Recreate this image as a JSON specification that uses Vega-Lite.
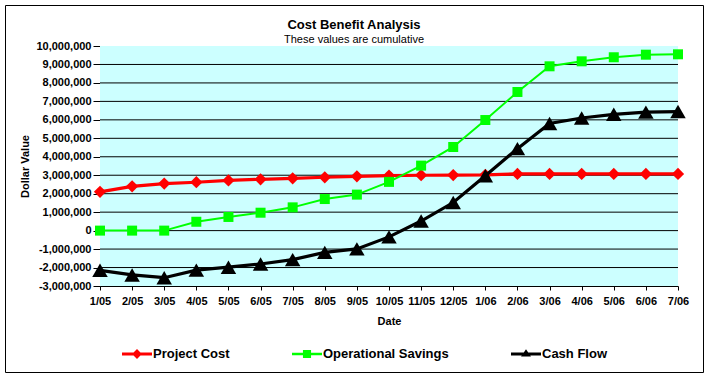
{
  "$schema": "https://vega.github.io/schema/vega-lite/v6.json",
  "width": 698,
  "height": 367,
  "autosize": {"type": "none"},
  "padding": {"left": 5, "top": 5, "right": 7, "bottom": 6},
  "background": "white",
  "title": {
    "text": "Cost Benefit Analysis",
    "subtitle": "These values are cumulative",
    "anchor": "middle",
    "offset": -40,
    "font": "Liberation Sans",
    "fontSize": 13,
    "fontWeight": "bold",
    "color": "black",
    "subtitleFont": "Liberation Sans",
    "subtitleFontSize": 11,
    "subtitleColor": "black",
    "subtitlePadding": 2
  },
  "config": {
    "view": {"stroke": "black", "strokeWidth": 1, "fill": "white"},
    "font": "Liberation Sans",
    "axis": {
      "domainColor": "black",
      "tickColor": "black",
      "labelColor": "black",
      "titleColor": "black",
      "labelFont": "Liberation Sans",
      "labelFontSize": 11,
      "labelFontWeight": "bold",
      "titleFont": "Liberation Sans",
      "titleFontSize": 11,
      "titleFontWeight": "bold",
      "labelOverlap": false,
      "grid": false
    }
  },
  "data": {
    "values": [
      {"Date": "1/05", "Series": "Project Cost", "Value": 2100000},
      {"Date": "2/05", "Series": "Project Cost", "Value": 2400000},
      {"Date": "3/05", "Series": "Project Cost", "Value": 2550000},
      {"Date": "4/05", "Series": "Project Cost", "Value": 2620000},
      {"Date": "5/05", "Series": "Project Cost", "Value": 2720000},
      {"Date": "6/05", "Series": "Project Cost", "Value": 2780000},
      {"Date": "7/05", "Series": "Project Cost", "Value": 2830000},
      {"Date": "8/05", "Series": "Project Cost", "Value": 2890000},
      {"Date": "9/05", "Series": "Project Cost", "Value": 2940000},
      {"Date": "10/05", "Series": "Project Cost", "Value": 2980000},
      {"Date": "11/05", "Series": "Project Cost", "Value": 3000000},
      {"Date": "12/05", "Series": "Project Cost", "Value": 3010000},
      {"Date": "1/06", "Series": "Project Cost", "Value": 3020000},
      {"Date": "2/06", "Series": "Project Cost", "Value": 3070000},
      {"Date": "3/06", "Series": "Project Cost", "Value": 3070000},
      {"Date": "4/06", "Series": "Project Cost", "Value": 3070000},
      {"Date": "5/06", "Series": "Project Cost", "Value": 3070000},
      {"Date": "6/06", "Series": "Project Cost", "Value": 3070000},
      {"Date": "7/06", "Series": "Project Cost", "Value": 3070000},
      {"Date": "1/05", "Series": "Operational Savings", "Value": 0},
      {"Date": "2/05", "Series": "Operational Savings", "Value": 0},
      {"Date": "3/05", "Series": "Operational Savings", "Value": 0},
      {"Date": "4/05", "Series": "Operational Savings", "Value": 480000},
      {"Date": "5/05", "Series": "Operational Savings", "Value": 740000},
      {"Date": "6/05", "Series": "Operational Savings", "Value": 970000},
      {"Date": "7/05", "Series": "Operational Savings", "Value": 1260000},
      {"Date": "8/05", "Series": "Operational Savings", "Value": 1710000},
      {"Date": "9/05", "Series": "Operational Savings", "Value": 1950000},
      {"Date": "10/05", "Series": "Operational Savings", "Value": 2640000},
      {"Date": "11/05", "Series": "Operational Savings", "Value": 3520000},
      {"Date": "12/05", "Series": "Operational Savings", "Value": 4530000},
      {"Date": "1/06", "Series": "Operational Savings", "Value": 5990000},
      {"Date": "2/06", "Series": "Operational Savings", "Value": 7510000},
      {"Date": "3/06", "Series": "Operational Savings", "Value": 8900000},
      {"Date": "4/06", "Series": "Operational Savings", "Value": 9170000},
      {"Date": "5/06", "Series": "Operational Savings", "Value": 9390000},
      {"Date": "6/06", "Series": "Operational Savings", "Value": 9530000},
      {"Date": "7/06", "Series": "Operational Savings", "Value": 9550000},
      {"Date": "1/05", "Series": "Cash Flow", "Value": -2150000},
      {"Date": "2/05", "Series": "Cash Flow", "Value": -2400000},
      {"Date": "3/05", "Series": "Cash Flow", "Value": -2550000},
      {"Date": "4/05", "Series": "Cash Flow", "Value": -2140000},
      {"Date": "5/05", "Series": "Cash Flow", "Value": -1980000},
      {"Date": "6/05", "Series": "Cash Flow", "Value": -1810000},
      {"Date": "7/05", "Series": "Cash Flow", "Value": -1570000},
      {"Date": "8/05", "Series": "Cash Flow", "Value": -1180000},
      {"Date": "9/05", "Series": "Cash Flow", "Value": -990000},
      {"Date": "10/05", "Series": "Cash Flow", "Value": -340000},
      {"Date": "11/05", "Series": "Cash Flow", "Value": 520000},
      {"Date": "12/05", "Series": "Cash Flow", "Value": 1520000},
      {"Date": "1/06", "Series": "Cash Flow", "Value": 2970000},
      {"Date": "2/06", "Series": "Cash Flow", "Value": 4440000},
      {"Date": "3/06", "Series": "Cash Flow", "Value": 5800000},
      {"Date": "4/06", "Series": "Cash Flow", "Value": 6100000},
      {"Date": "5/06", "Series": "Cash Flow", "Value": 6300000},
      {"Date": "6/06", "Series": "Cash Flow", "Value": 6420000},
      {"Date": "7/06", "Series": "Cash Flow", "Value": 6450000}
    ]
  },
  "layer": [
    {
      "data": {"values": [{}]},
      "mark": {"type": "rect", "fill": "#CCFFFF"},
      "encoding": {
        "x": {
          "datum": "1/05",
          "type": "ordinal",
          "scale": {
            "type": "point",
            "padding": 0,
            "domain": ["1/05","2/05","3/05","4/05","5/05","6/05","7/05","8/05","9/05","10/05","11/05","12/05","1/06","2/06","3/06","4/06","5/06","6/06","7/06"],
            "range": [95, 673]
          },
          "axis": {
            "title": "Date",
            "orient": "bottom",
            "offset": -86,
            "labelAngle": 0,
            "labelOverlap": false,
            "tickSize": 4,
            "labelPadding": 5,
            "titlePadding": 9
          }
        },
        "x2": {"datum": "7/06"},
        "y": {
          "datum": -3000000,
          "type": "quantitative",
          "scale": {"domain": [-3000000, 10000000], "range": [281, 41], "nice": false, "zero": false},
          "axis": {
            "title": "Dollar Value",
            "orient": "left",
            "offset": -95,
            "values": [-3000000,-2000000,-1000000,0,1000000,2000000,3000000,4000000,5000000,6000000,7000000,8000000,9000000,10000000],
            "tickCount": 30,
            "labelExpr": "replace(format(datum.value, ',d'), '\u2212', '-')",
            "labelOverlap": false,
            "tickSize": 7,
            "labelPadding": 2,
            "titlePadding": 5
          }
        },
        "y2": {"datum": 10000000}
      }
    },
    {
      "data": {"values": [{"g": -2000000},{"g": -1000000},{"g": 0},{"g": 1000000},{"g": 2000000},{"g": 3000000},{"g": 4000000},{"g": 5000000},{"g": 6000000},{"g": 7000000},{"g": 8000000},{"g": 9000000}]},
      "mark": {"type": "rule", "color": "black", "strokeWidth": 1},
      "encoding": {
        "x": {"datum": "1/05", "type": "ordinal"},
        "x2": {"datum": "7/06"},
        "y": {"field": "g", "type": "quantitative"}
      }
    },
    {
      "transform": [{"filter": "datum.Series === 'Project Cost'"}],
      "mark": {"type": "line", "color": "#FF0000", "strokeWidth": 3.2},
      "encoding": {
        "x": {"field": "Date", "type": "ordinal"},
        "y": {"field": "Value", "type": "quantitative"}
      }
    },
    {
      "transform": [{"filter": "datum.Series === 'Project Cost'"}],
      "mark": {"type": "point", "shape": "diamond", "filled": true, "opacity": 1, "size": 150, "color": "#FF0000", "strokeWidth": 0},
      "encoding": {
        "x": {"field": "Date", "type": "ordinal"},
        "y": {"field": "Value", "type": "quantitative"}
      }
    },
    {
      "transform": [{"filter": "datum.Series === 'Operational Savings'"}],
      "mark": {"type": "line", "color": "#00FF00", "strokeWidth": 2},
      "encoding": {
        "x": {"field": "Date", "type": "ordinal"},
        "y": {"field": "Value", "type": "quantitative"}
      }
    },
    {
      "transform": [{"filter": "datum.Series === 'Operational Savings'"}],
      "mark": {"type": "point", "shape": "square", "filled": true, "opacity": 1, "size": 100, "color": "#00FF00", "strokeWidth": 0},
      "encoding": {
        "x": {"field": "Date", "type": "ordinal"},
        "y": {"field": "Value", "type": "quantitative"}
      }
    },
    {
      "transform": [{"filter": "datum.Series === 'Cash Flow'"}],
      "mark": {"type": "line", "color": "#000000", "strokeWidth": 3.2},
      "encoding": {
        "x": {"field": "Date", "type": "ordinal"},
        "y": {"field": "Value", "type": "quantitative"}
      }
    },
    {
      "transform": [{"filter": "datum.Series === 'Cash Flow'"}],
      "mark": {"type": "point", "shape": "triangle-up", "filled": true, "opacity": 1, "size": 240, "color": "#000000", "strokeWidth": 0},
      "encoding": {
        "x": {"field": "Date", "type": "ordinal"},
        "y": {"field": "Value", "type": "quantitative"}
      }
    },
    {
      "mark": {"type": "point", "filled": true, "opacity": 0},
      "encoding": {
        "x": {"field": "Date", "type": "ordinal"},
        "y": {"field": "Value", "type": "quantitative"},
        "fill": {
          "field": "Series",
          "type": "nominal",
          "scale": {"domain": ["Project Cost", "Operational Savings", "Cash Flow"], "range": ["#FF0000", "#00FF00", "#000000"]},
          "legend": {
            "orient": "none",
            "legendX": 117,
            "legendY": 334,
            "direction": "horizontal",
            "columns": 3,
            "columnPadding": 62,
            "title": null,
            "padding": 0,
            "symbolSize": 900,
            "symbolOpacity": 1,
            "symbolStrokeWidth": 0,
            "labelFont": "Liberation Sans",
            "labelFontSize": 13,
            "labelFontWeight": "bold",
            "labelColor": "black",
            "labelOffset": 1,
            "labelLimit": 300
          }
        },
        "shape": {
          "field": "Series",
          "type": "nominal",
          "scale": {
            "domain": ["Project Cost", "Operational Savings", "Cash Flow"],
            "range": [
              "M-1,-0.1H1V0.1H-1Z M0,-0.33L0.33,0L0,0.33L-0.33,0Z",
              "M-1,-0.08H1V0.08H-1Z M-0.27,-0.27H0.27V0.27H-0.27Z",
              "M-1,-0.1H1V0.1H-1Z M0,-0.32L0.33,0.17H-0.33Z"
            ]
          },
          "legend": {
            "orient": "none",
            "legendX": 117,
            "legendY": 334,
            "direction": "horizontal",
            "columns": 3,
            "columnPadding": 62,
            "title": null,
            "padding": 0,
            "symbolSize": 900,
            "symbolOpacity": 1,
            "symbolStrokeWidth": 0,
            "labelFont": "Liberation Sans",
            "labelFontSize": 13,
            "labelFontWeight": "bold",
            "labelColor": "black",
            "labelOffset": 1,
            "labelLimit": 300
          }
        }
      }
    }
  ]
}
